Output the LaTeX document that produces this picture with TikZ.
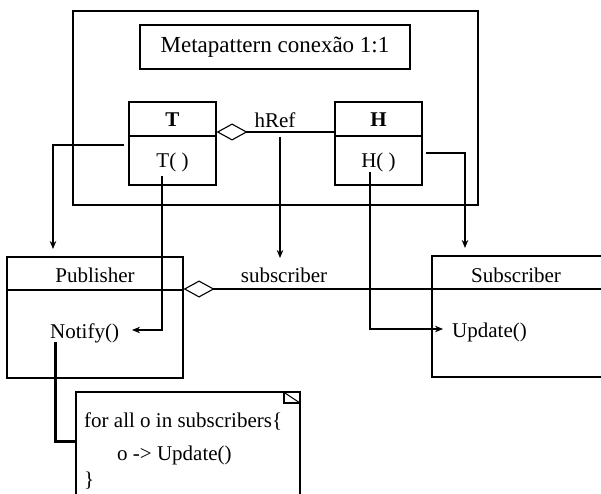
\documentclass[tikz,border=0pt]{standalone}
\usepackage{fontspec}
\setmainfont{Liberation Serif}
\usetikzlibrary{arrows.meta}
\begin{document}
\begin{tikzpicture}[x=1pt,y=-1pt,
  lw/.style={line width=1.1pt},
  box/.style={draw, lw, inner sep=0pt},
  arr/.style={lw, -{Stealth[length=8pt,width=6.5pt,inset=2.5pt]}},
  agg/.style={lw, {Diamond[open,length=31pt,width=17pt]}-},
  txt/.style={inner sep=0pt, anchor=base west, font=\fontsize{21}{24}\selectfont},
  ctxt/.style={inner sep=0pt, anchor=base, font=\fontsize{21}{24}\selectfont},
  btxt/.style={inner sep=0pt, anchor=base, font=\fontsize{21}{24}\selectfont\bfseries}]
\clip (0,0) rectangle (601,494);
% frame and title
\node[box, minimum width=405pt, minimum height=194pt] (frame) at (275.5,108) {};
\node[box, minimum width=270pt, minimum height=44pt, font=\fontsize{23}{26}\selectfont] (title) at (275,47) {Metapattern conexão 1:1};
% T and H classes
\node[box, minimum width=87pt, minimum height=83pt] (T) at (172.5,143.5) {};
\node[box, minimum width=87pt, minimum height=83pt] (H) at (378.5,143.5) {};
\draw[lw] (T.west |- 0,136) -- (T.east |- 0,136);
\draw[lw] (H.west |- 0,136) -- (H.east |- 0,136);
\node[btxt] (Tn) at (172.5,127) {T};
\node[ctxt] (Tm) at (172.5,168) {T( )};
\node[btxt] (Hn) at (378.5,127) {H};
\node[ctxt] (Hm) at (378.5,168) {H( )};
\draw[agg] (T.east |- 0,132) -- (H.west |- 0,132);
\node[ctxt] (href) at (275,128) {hRef};
% Publisher and Subscriber
\node[box, minimum width=176pt, minimum height=121pt] (Pub) at (95,317.5) {};
\node[box, minimum width=228pt, minimum height=121pt] (Sub) at (546,316.5) {};
\draw[lw] (Pub.west |- 0,290) -- (Pub.east |- 0,290);
\draw[lw] (Sub.west |- 0,289) -- (Sub.east |- 0,289);
\node[ctxt] (pubn) at (95,282) {Publisher};
\node[ctxt] (subn) at (516,282) {Subscriber};
\node[txt] (notify) at (50,338) {Notify()};
\node[txt] (update) at (452,337) {Update()};
\draw[agg] (Pub.east |- 0,289) -- (Sub.west |- 0,289);
\node[ctxt] (subl) at (284,282) {subscriber};
% note
\node[box, minimum width=224pt, minimum height=128pt] (note) at (188,456) {};
\draw[lw] (284,392) -- (284,403) -- (300,403);
\draw[lw] (285,393) -- (300,403);
\node[txt] (n1) at (84,427) {for all o in subscribers\{};
\node[txt] (n2) at (117,460) {o -> Update()};
\node[txt] (n3) at (84,486) {\}};
% connectors
\coordinate (tstub) at (124,145);
\coordinate (pubin) at (53,249);
\draw[arr] (tstub) -| (pubin);
\coordinate (tmb) at (162,176);
\coordinate (notin) at (132,330);
\draw[arr] (tmb) |- (notin);
\coordinate (hrb) at (280,137);
\coordinate (subin) at (280,258);
\draw[arr] (hrb) -- (subin);
\coordinate (hmb) at (370,172);
\coordinate (updin) at (443,329);
\draw[arr] (hmb) |- (updin);
\coordinate (hstub) at (426,153);
\coordinate (subtop) at (465,248);
\draw[arr] (hstub) -| (subtop);
\coordinate (notb) at (55,342);
\draw[line width=3pt] (notb) |- (note.west |- 0,441);
\end{tikzpicture}
\end{document}
